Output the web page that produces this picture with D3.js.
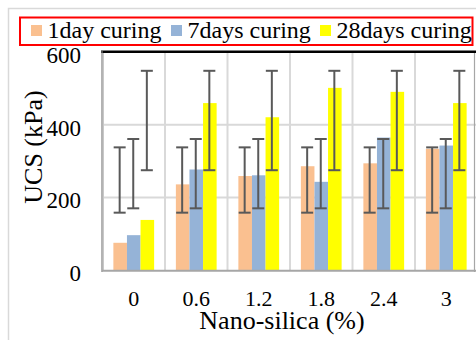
<!DOCTYPE html>
<html>
<head>
<meta charset="utf-8">
<script src="https://cdn.jsdelivr.net/npm/d3@7"></script>
<style>
  html, body { margin: 0; padding: 0; background: #fff; }
  svg { display: block; }
  svg text { font-family: "Liberation Serif", "Times New Roman", serif !important; fill: #000; }
</style>
</head>
<body>
<script>
// ---- data ----
const categories = ["0", "0.6", "1.2", "1.8", "2.4", "3"];
const seriesNames = ["1day curing", "7days curing", "28days curing"];
const seriesColors = ["#FAC090", "#95B3D7", "#FFFF00"];
const day1 = [75, 236, 259, 286, 294, 334];
const day7 = [96, 277, 261, 243, 365, 343];
const day28 = [138, 460, 421, 502, 491, 460];
// error bar extents (same for every category)
const errLow = [158, 170, 275];
const errHigh = [338, 361, 549];
const yTicks = [0, 200, 400, 600];

const seriesValues = [day1, day7, day28];
const FONT = '"Liberation Serif", "Times New Roman", serif';

const W = 476, H = 340;
const svg = d3.select("body").append("svg").attr("width", W).attr("height", H)
  .attr("font-family", FONT);

// outer chart border
svg.append("rect").attr("x", 8.5).attr("y", 8.5).attr("width", 480).attr("height", 340)
  .attr("fill", "none").attr("stroke", "#D9D9D9").attr("stroke-width", 1.5);

const x0 = d3.scaleBand().domain(categories).range([102.5, 477.5]).paddingInner(0).paddingOuter(0);
const x1 = d3.scaleBand().domain(d3.range(3)).range([0, x0.bandwidth()]).paddingInner(0).paddingOuter(0.8);
const y = d3.scaleLinear().domain([0, 600]).range([270, 52.3]);

// gridlines
const g = svg.append("g");
g.selectAll("line.hg").data(yTicks.filter(t => t > 0 && t < 600)).enter().append("line")
  .attr("x1", 103).attr("x2", 476).attr("y1", d => y(d)).attr("y2", d => y(d))
  .attr("stroke", "#D9D9D9").attr("stroke-width", 2);
g.selectAll("line.vg").data(categories.slice(1)).enter().append("line")
  .attr("x1", d => x0(d)).attr("x2", d => x0(d)).attr("y1", y(600)).attr("y2", y(0))
  .attr("stroke", "#D9D9D9").attr("stroke-width", 2);

// bars
const groups = svg.append("g").selectAll("g").data(categories).enter().append("g")
  .attr("transform", d => `translate(${x0(d)},0)`);
groups.selectAll("rect").data((c, ci) => seriesValues.map((s, si) => ({ si, v: s[ci] })))
  .enter().append("rect")
  .attr("x", d => x1(d.si)).attr("width", x1.bandwidth())
  .attr("y", d => y(d.v)).attr("height", d => y(0) - y(d.v))
  .attr("fill", d => seriesColors[d.si]);

// error bars
const eb = groups.selectAll("g.err").data(() => d3.range(3)).enter().append("g")
  .attr("stroke", "#595959").attr("stroke-width", 2);
eb.append("line")
  .attr("x1", si => x1(si) + x1.bandwidth() / 2 - 0.5).attr("x2", si => x1(si) + x1.bandwidth() / 2 - 0.5)
  .attr("y1", si => y(errLow[si])).attr("y2", si => y(errHigh[si]));
eb.append("line")
  .attr("x1", si => x1(si) + x1.bandwidth() / 2 - 6.5).attr("x2", si => x1(si) + x1.bandwidth() / 2 + 5.5)
  .attr("y1", si => y(errLow[si])).attr("y2", si => y(errLow[si]));
eb.append("line")
  .attr("x1", si => x1(si) + x1.bandwidth() / 2 - 6.5).attr("x2", si => x1(si) + x1.bandwidth() / 2 + 5.5)
  .attr("y1", si => y(errHigh[si])).attr("y2", si => y(errHigh[si]));

// frame
svg.append("line").attr("x1", 101).attr("x2", 476).attr("y1", 51.8).attr("y2", 51.8)
  .attr("stroke", "#000").attr("stroke-width", 2.6);
svg.append("line").attr("x1", 102).attr("x2", 102).attr("y1", 51).attr("y2", 272)
  .attr("stroke", "#808080").attr("stroke-width", 1.2);
svg.append("line").attr("x1", 103.5).attr("x2", 103.5).attr("y1", 53).attr("y2", 270)
  .attr("stroke", "#C8C8C8").attr("stroke-width", 1);
svg.append("line").attr("x1", 474.5).attr("x2", 474.5).attr("y1", 53).attr("y2", 272)
  .attr("stroke", "#A6A6A6").attr("stroke-width", 1.2);
svg.append("line").attr("x1", 102).attr("x2", 476).attr("y1", 270.8).attr("y2", 270.8)
  .attr("stroke", "#A6A6A6").attr("stroke-width", 2);

// y axis labels
const yAxis = d3.axisLeft(y).tickValues(yTicks).tickSize(0).tickPadding(0).tickFormat(d3.format("d"));
const ya = svg.append("g").attr("transform", "translate(81,0)").call(yAxis)
  .attr("font-family", FONT).attr("font-size", 23);
ya.select(".domain").remove();
ya.selectAll("text").attr("font-size", 23).attr("dy", "0.45em").attr("fill", "#000");

// x axis labels
const xAxis = d3.axisBottom(x0).tickSize(0).tickPadding(0);
const xa = svg.append("g").attr("transform", "translate(0,290)").call(xAxis)
  .attr("font-family", FONT).attr("font-size", 22);
xa.select(".domain").remove();
xa.selectAll("text").attr("font-size", 22).attr("dy", "0.72em").attr("fill", "#000");

// axis titles
svg.append("text").attr("x", 282).attr("y", 329).attr("text-anchor", "middle")
  .attr("font-size", 26).text("Nano-silica (%)");
svg.append("text").attr("transform", "translate(41.5,147) rotate(-90)").attr("text-anchor", "middle")
  .attr("font-size", 26).text("UCS (kPa)");

// legend
const lg = svg.append("g");
lg.append("rect").attr("x", 20).attr("y", 17.5).attr("width", 452.5).attr("height", 27.5)
  .attr("fill", "#fff").attr("stroke", "#FF0000").attr("stroke-width", 2);
const legendX = [31, 171, 320];
seriesNames.forEach((n, i) => {
  lg.append("rect").attr("x", legendX[i]).attr("y", 25).attr("width", 11).attr("height", 11)
    .attr("fill", seriesColors[i]);
  lg.append("text").attr("x", legendX[i] + 16.5).attr("y", 37.5).attr("font-size", 24).text(n);
});
</script>
</body>
</html>
